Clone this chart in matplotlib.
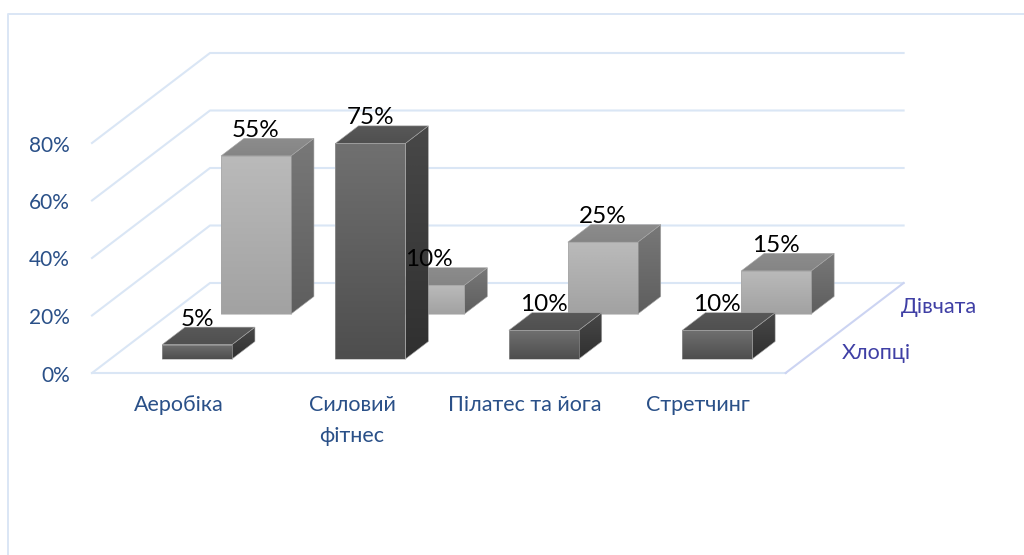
import numpy as np
import matplotlib
matplotlib.use("Agg")
import matplotlib.pyplot as plt
from matplotlib.patches import Polygon
from matplotlib.colors import LinearSegmentedColormap

categories = ["Аеробіка", "Силовий\nфітнес", "Пілатес та йога", "Стретчинг"]
boys = [5, 75, 10, 10]
girls = [55, 10, 25, 15]
series_names = ["Хлопці", "Дівчата"]
y_ticks = [0, 20, 40, 60, 80]

# oblique projection of the excel 3d chart, all in pixels
X0, Y0 = 92, 373
CAT_W = 173.4
PX_PER_PCT = 2.875
DEPTH_X, DEPTH_Y = 59, 45
BAR_W = 0.403
BAR_D0, BAR_D1 = 0.31, 0.70

GRID = "#dae6f5"
AXIS_TXT = "#2a5088"
SERIES_TXT = "#3f3fa5"
FONT = "Lato"


def proj(u, d, v):
    return X0 + CAT_W * u + DEPTH_X * d, Y0 - PX_PER_PCT * v - DEPTH_Y * d


def gradient_face(ax, pts, c_top, c_bot, z):
    pts = np.array(pts)
    cmap = LinearSegmentedColormap.from_list("g", [c_top, c_bot])
    x0, x1 = pts[:, 0].min(), pts[:, 0].max()
    y0, y1 = pts[:, 1].min(), pts[:, 1].max()
    im = ax.imshow(np.linspace(0, 1, 64).reshape(-1, 1), cmap=cmap, aspect="auto",
                   extent=(x0, x1, y1, y0), zorder=z, interpolation="bilinear")
    clip = Polygon(pts, closed=True, transform=ax.transData)
    im.set_clip_path(clip)
    ax.add_patch(Polygon(pts, closed=True, fill=False, edgecolor="#a6a6a6", linewidth=0.4, zorder=z + 0.1))


def bar(ax, i, s, v, pal, z):
    u0 = i + (1 - BAR_W) / 2
    u1 = u0 + BAR_W
    d0 = s + BAR_D0
    d1 = s + BAR_D1
    front = [proj(u0, d0, 0), proj(u1, d0, 0), proj(u1, d0, v), proj(u0, d0, v)]
    side = [proj(u1, d0, 0), proj(u1, d1, 0), proj(u1, d1, v), proj(u1, d0, v)]
    top = [proj(u0, d0, v), proj(u1, d0, v), proj(u1, d1, v), proj(u0, d1, v)]
    gradient_face(ax, side, pal["side"][0], pal["side"][1], z)
    gradient_face(ax, front, pal["front"][0], pal["front"][1], z + 0.2)
    gradient_face(ax, top, pal["top"][0], pal["top"][1], z + 0.4)
    # label sits above the front face centre, on the back edge of the top
    return proj(u0 + BAR_W * 0.5, d0, v)[0], proj(u0, d1, v)[1]


fig = plt.figure(figsize=(10.24, 5.55), dpi=100)
ax = fig.add_axes([0, 0, 1, 1])
ax.set_xlim(0, 1024)
ax.set_ylim(555, 0)
ax.axis("off")

# chart frame
ax.plot([8, 8, 1024], [555, 14, 14], color=GRID, lw=1.4, zorder=1)

# walls
for t in y_ticks:
    pts = [proj(0, 0, t), proj(0, 2, t), proj(4, 2, t)]
    ax.plot(*zip(*pts), color=GRID, lw=1.5, zorder=1)
    x, y = proj(0, 0, t)
    ax.text(x - 22, y + 2.5, f"{t}%", ha="right", va="center", fontsize=15, color=AXIS_TXT, family=FONT)
ax.plot(*zip(proj(0, 0, 0), proj(4, 0, 0)), color=GRID, lw=1.5, zorder=1)
ax.plot(*zip(proj(4, 0, 0), proj(4, 2, 0)), color="#ccd4f2", lw=1.5, zorder=1)

dark = {"front": ("#707070", "#4e4e4e"), "side": ("#484848", "#303030"), "top": ("#585858", "#505050")}
light = {"front": ("#bababa", "#a2a2a2"), "side": ("#787878", "#5e5e5e"), "top": ("#8c8c8c", "#858585")}

label_pos = []
for i, v in enumerate(girls):
    label_pos.append((bar(ax, i, 1, v, light, 3 + i), v))
for i, v in enumerate(boys):
    label_pos.append((bar(ax, i, 0, v, dark, 8 + i), v))

for (x, y), v in label_pos:
    ax.text(x, y + 2.5, f"{v}%", ha="center", va="bottom", fontsize=17.5, color="black", family=FONT, zorder=20)

label_x = [178.5, 352, 525, 698]
for x, c in zip(label_x, categories):
    ax.text(x, 395, c, ha="center", va="top", fontsize=15.5, color=AXIS_TXT, family=FONT, linespacing=1.7)

ax.text(876, 353, series_names[0], ha="center", va="center", fontsize=15.5, color=SERIES_TXT, family=FONT)
ax.text(938.5, 307, series_names[1], ha="center", va="center", fontsize=15.5, color=SERIES_TXT, family=FONT)

ax.set_xlim(0, 1024)
ax.set_ylim(555, 0)
fig.savefig("out.png", dpi=100, facecolor="white")
